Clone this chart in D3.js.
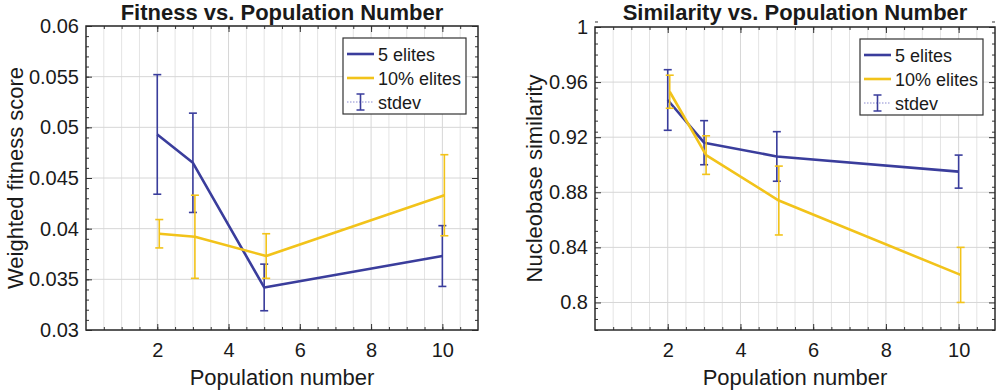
<!DOCTYPE html>
<html>
<head>
<meta charset="utf-8">
<script src="https://cdn.jsdelivr.net/npm/d3@7"></script>
<style>
body { margin: 0; background: #fff; }
text { font-family: "Liberation Sans", Arial, Helvetica, sans-serif; fill: #1a1a1a; }
</style>
</head>
<body>
<svg id="chart" width="1000" height="392"></svg>
<script>
// population sizes on the x axis
var popNumbers = [2, 3, 5, 10];
var xTickValues = [2, 4, 6, 8, 10];
var seriesNames = ["5 elites", "10% elites"];

// fitness panel
var fitFiveMean = [0.0493, 0.0465, 0.0342, 0.0373];
var fitFiveSd = [0.0059, 0.0049, 0.0023, 0.0030];
var fitTenMean = [0.0395, 0.0392, 0.0373, 0.0433];
var fitTenSd = [0.0014, 0.0041, 0.0022, 0.0040];
var fitYTicks = [0.03, 0.035, 0.04, 0.045, 0.05, 0.055, 0.06];
var fitYLabels = ["0.03", "0.035", "0.04", "0.045", "0.05", "0.055", "0.06"];

// similarity panel
var simFiveMean = [0.947, 0.916, 0.906, 0.895];
var simFiveSd = [0.022, 0.016, 0.018, 0.012];
var simTenMean = [0.953, 0.907, 0.874, 0.820];
var simTenSd = [0.012, 0.014, 0.025, 0.020];
var simYTicks = [0.8, 0.84, 0.88, 0.92, 0.96, 1];
var simYLabels = ["0.8", "0.84", "0.88", "0.92", "0.96", "1"];

var BLUE = "#3a3d9c";
var YELLOW = "#f2c31a";
var FONT_TICK = 20;

var svg = d3.select("#chart");

var drawPanel = function(opt) {
  var x = d3.scaleLinear().domain([0, 11]).range([opt.left, opt.right]);
  var y = d3.scaleLinear().domain(opt.yDomain).range([opt.bottom, opt.top]);
  var g = svg.append("g");

  // minor vertical grid every 0.5
  var minorX = d3.range(0.5, 11, 0.5);
  g.selectAll(".vminor").data(minorX).enter().append("line")
    .attr("x1", function(d) { return x(d); }).attr("x2", function(d) { return x(d); })
    .attr("y1", opt.top).attr("y2", opt.bottom)
    .attr("stroke", function(d) { return d % 2 === 0 ? "#d6d6d6" : "#e4e4e4"; })
    .attr("stroke-width", 1);
  // major horizontal grid
  g.selectAll(".hgrid").data(opt.yTicks).enter().append("line")
    .attr("x1", opt.left).attr("x2", opt.right)
    .attr("y1", function(d) { return y(d); }).attr("y2", function(d) { return y(d); })
    .attr("stroke", "#d6d6d6").attr("stroke-width", 1);

  // axes (ticks inward)
  var yStep = opt.yTicks[1] - opt.yTicks[0];
  var yMinor = d3.range(opt.yDomain[0], opt.yDomain[1] + yStep / 10, yStep / 5);
  [["left", d3.axisLeft, opt.left, true], ["right", d3.axisRight, opt.right, false]].forEach(function(a) {
    var ax = g.append("g").attr("transform", "translate(" + a[2] + ",0)");
    ax.call(a[1](y).tickValues(yMinor).tickSizeInner(-3).tickSizeOuter(0).tickFormat(""));
    var ax2 = g.append("g").attr("transform", "translate(" + a[2] + ",0)");
    ax2.call(a[1](y).tickValues(opt.yTicks).tickSizeInner(-6).tickSizeOuter(0).tickPadding(7)
      .tickFormat(a[3] ? function(d, i) { return opt.yLabels[i]; } : ""));
    ax2.selectAll("text").style("font-size", FONT_TICK + "px").attr("fill", "#1a1a1a");
  });
  [["bottom", d3.axisBottom, opt.bottom, true], ["top", d3.axisTop, opt.top, false]].forEach(function(a) {
    var ax = g.append("g").attr("transform", "translate(0," + a[2] + ")");
    ax.call(a[1](x).tickValues(minorX).tickSizeInner(-3).tickSizeOuter(0).tickFormat(""));
    var ax2 = g.append("g").attr("transform", "translate(0," + a[2] + ")");
    ax2.call(a[1](x).tickValues(xTickValues).tickSizeInner(-6).tickSizeOuter(0).tickPadding(13)
      .tickFormat(a[3] ? d3.format("d") : ""));
    ax2.selectAll("text").style("font-size", FONT_TICK + "px").attr("fill", "#1a1a1a");
  });
  g.selectAll(".domain").remove();
  g.selectAll(".tick line").attr("stroke", "#333").attr("stroke-width", 1);

  // box
  g.append("rect").attr("x", opt.left).attr("y", opt.top)
    .attr("width", opt.right - opt.left).attr("height", opt.bottom - opt.top)
    .attr("fill", "none").attr("stroke", "#2a2a2a").attr("stroke-width", 1.5);

  // series
  opt.series.forEach(function(s) {
    var pts = popNumbers.map(function(p, i) { return {x: p, m: s.mean[i], sd: s.sd[i]}; });
    var line = d3.line().x(function(d) { return x(d.x) + s.dodge; }).y(function(d) { return y(d.m); });
    g.append("path").datum(pts).attr("d", line)
      .attr("fill", "none").attr("stroke", s.color).attr("stroke-width", 2.6)
      .attr("stroke-linejoin", "round");
    var eb = g.selectAll(null).data(pts).enter().append("g").attr("stroke", s.color).attr("stroke-width", 1.6);
    eb.append("line")
      .attr("x1", function(d) { return x(d.x) + s.dodge; }).attr("x2", function(d) { return x(d.x) + s.dodge; })
      .attr("y1", function(d) { return y(d.m + d.sd); }).attr("y2", function(d) { return y(d.m - d.sd); });
    [1, -1].forEach(function(k) {
      eb.append("line")
        .attr("x1", function(d) { return x(d.x) + s.dodge - 4; }).attr("x2", function(d) { return x(d.x) + s.dodge + 4; })
        .attr("y1", function(d) { return y(d.m + k * d.sd); }).attr("y2", function(d) { return y(d.m + k * d.sd); });
    });
  });

  // legend
  var lw = 123, lh = 76;
  var lx = opt.right - 12 - lw, ly = opt.top + 12;
  var lg = g.append("g").attr("transform", "translate(" + lx + "," + ly + ")");
  lg.append("rect").attr("width", lw).attr("height", lh)
    .attr("fill", "#fff").attr("stroke", "#333").attr("stroke-width", 1.2);
  var rows = [16, 40, 64];
  opt.series.forEach(function(s, i) {
    lg.append("line").attr("x1", 4).attr("x2", 31).attr("y1", rows[i]).attr("y2", rows[i])
      .attr("stroke", s.color).attr("stroke-width", 2.6);
    lg.append("text").attr("x", 35).attr("y", rows[i] + 6.5).style("font-size", "18px").text(seriesNames[i]);
  });
  lg.append("line").attr("x1", 4).attr("x2", 31).attr("y1", rows[2]).attr("y2", rows[2])
    .attr("stroke", "#8a8ad0").attr("stroke-width", 1).attr("stroke-dasharray", "1.5,1.5");
  var sx = 17.5;
  lg.append("path")
    .attr("d", "M" + (sx - 4) + "," + (rows[2] - 8) + "H" + (sx + 4) + "M" + sx + "," + (rows[2] - 8) + "V" + (rows[2] + 8) + "M" + (sx - 4) + "," + (rows[2] + 8) + "H" + (sx + 4))
    .attr("stroke", BLUE).attr("stroke-width", 1.6).attr("fill", "none");
  lg.append("text").attr("x", 35).attr("y", rows[2] + 6.5).style("font-size", "18px").text("stdev");

  // titles
  svg.append("text").attr("x", (opt.left + opt.right) / 2).attr("y", 20)
    .attr("text-anchor", "middle").style("font-size", "22px").style("font-weight", "bold").text(opt.title);
  svg.append("text").attr("x", (opt.left + opt.right) / 2).attr("y", 385)
    .attr("text-anchor", "middle").style("font-size", "22px").text("Population number");
  svg.append("text").attr("transform", "translate(" + opt.yLabelX + "," + ((opt.top + opt.bottom) / 2) + ") rotate(-90)")
    .attr("text-anchor", "middle").style("font-size", "22px").text(opt.yLabel);
};

drawPanel({
  left: 86, right: 478, top: 26, bottom: 330,
  yDomain: [0.03, 0.06], yTicks: fitYTicks, yLabels: fitYLabels,
  title: "Fitness vs. Population Number", yLabel: "Weighted fitness score", yLabelX: 23,
  series: [
    {mean: fitFiveMean, sd: fitFiveSd, color: BLUE, dodge: 0},
    {mean: fitTenMean, sd: fitTenSd, color: YELLOW, dodge: 2}
  ]
});

drawPanel({
  left: 595, right: 995, top: 27, bottom: 330,
  yDomain: [0.78, 1], yTicks: simYTicks, yLabels: simYLabels,
  title: "Similarity vs. Population Number", yLabel: "Nucleobase similarity", yLabelX: 542,
  series: [
    {mean: simFiveMean, sd: simFiveSd, color: BLUE, dodge: 0},
    {mean: simTenMean, sd: simTenSd, color: YELLOW, dodge: 2}
  ]
});
</script>
</body>
</html>
